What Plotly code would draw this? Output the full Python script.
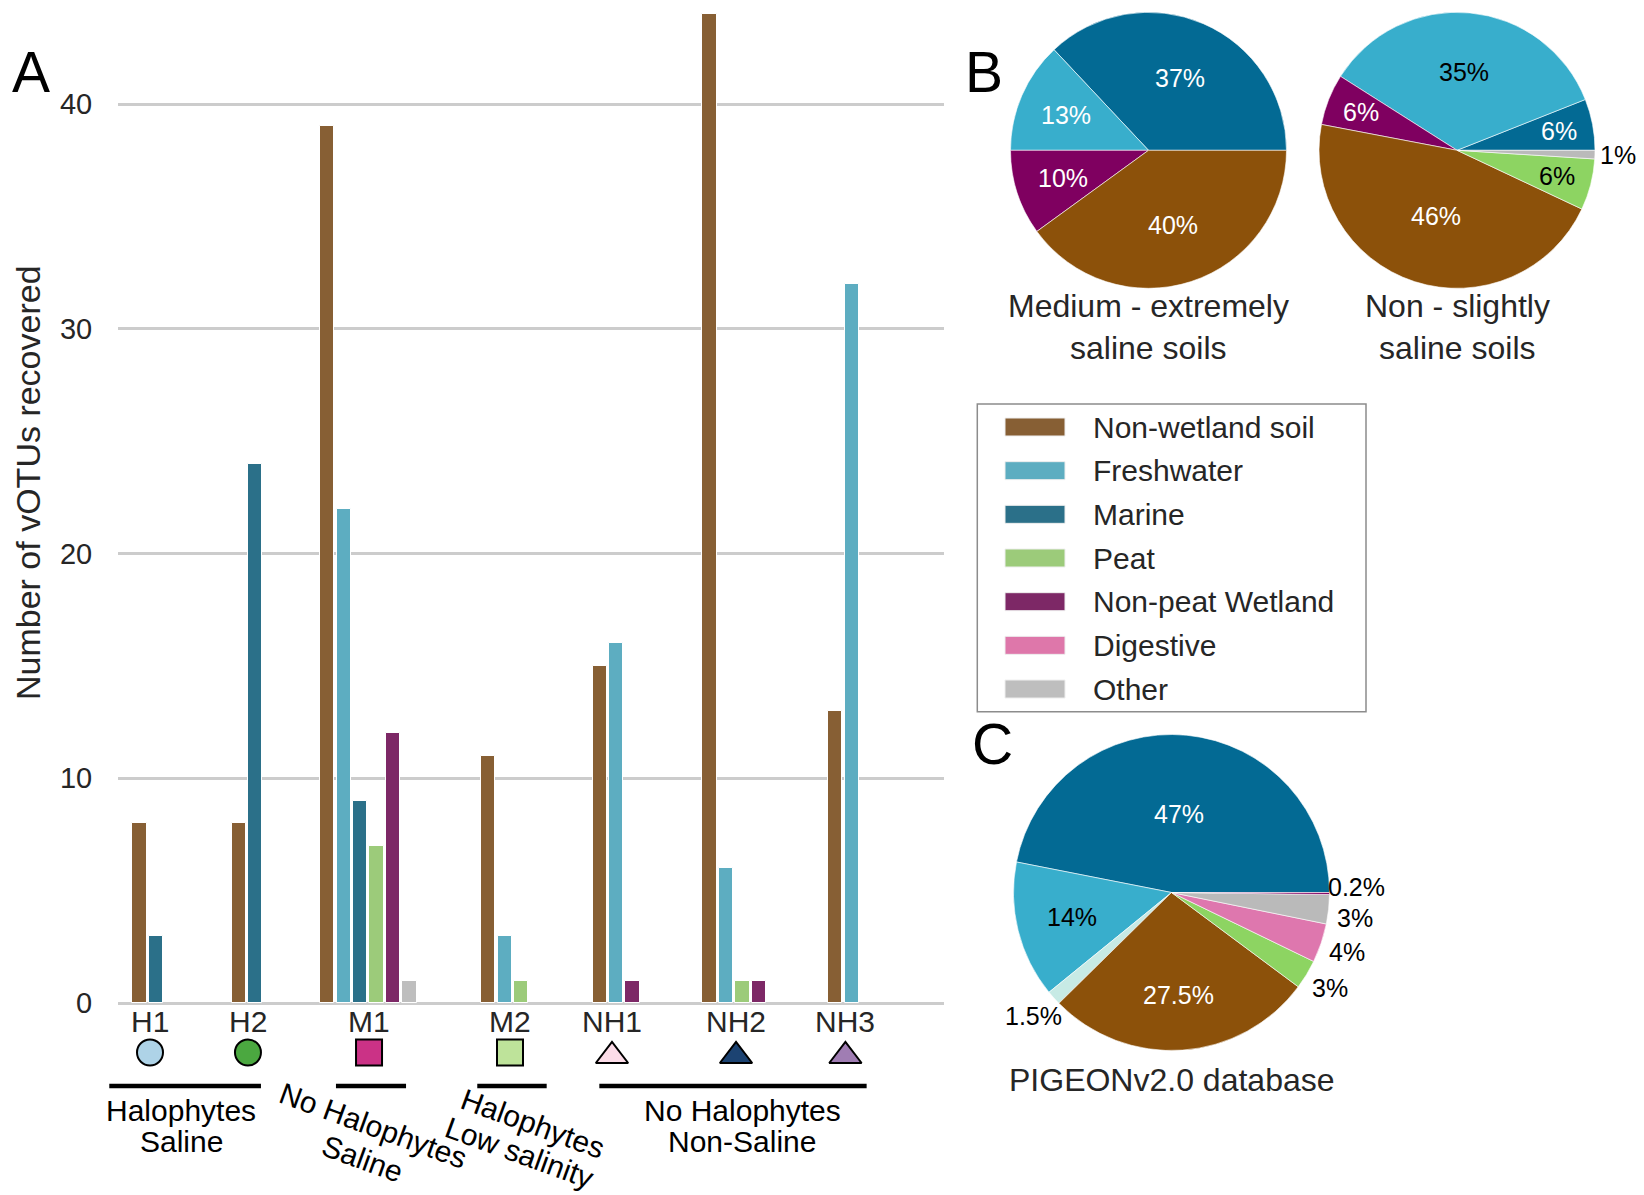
import math
import plotly.graph_objects as go

W, H = 1644, 1195
FONT = "Liberation Sans, Arial, Helvetica, sans-serif"
TEXT = "#262626"

# ---------------- Panel A: vOTUs recovered per sample ----------------
samples = ["H1", "H2", "M1", "M2", "NH1", "NH2", "NH3"]
categories = ["Non-wetland soil", "Freshwater", "Marine", "Peat",
              "Non-peat Wetland", "Digestive", "Other"]
non_wetland_soil = [8, 8, 39, 11, 15, 44, 13]
freshwater = [0, 0, 22, 3, 16, 6, 32]
marine = [3, 24, 9, 0, 0, 0, 0]
peat = [0, 0, 7, 1, 0, 1, 0]
non_peat_wetland = [0, 0, 12, 0, 1, 1, 0]
digestive = [0, 0, 0, 0, 0, 0, 0]
other = [0, 0, 1, 0, 0, 0, 0]
series = [non_wetland_soil, freshwater, marine, peat,
          non_peat_wetland, digestive, other]

sample_symbols = ["circle", "circle", "square", "square",
                  "triangle-up", "triangle-up", "triangle-up"]
sample_colors = ["#AED3E7", "#4BA840", "#CB3286", "#BEE39A",
                 "#FCDCE8", "#1C4372", "#A07DB3"]

groups = [("Halophytes", "Saline"), ("No Halophytes", "Saline"),
          ("Halophytes", "Low salinity"), ("No Halophytes", "Non-Saline")]

# ---------------- Panels B, C: source habitat shares (%) ----------------
saline_cats = ["Marine", "Freshwater", "Non-peat Wetland", "Non-wetland soil"]
saline_pct = [37, 13, 10, 40]
nonsaline_cats = ["Marine", "Freshwater", "Non-peat Wetland",
                  "Non-wetland soil", "Peat", "Other"]
nonsaline_pct = [6, 35, 6, 46, 6, 1]
pigeon_cats = ["Marine", "Freshwater", "Other aquatic", "Non-wetland soil",
               "Peat", "Digestive", "Other", "Non-peat Wetland"]
pigeon_pct = [47, 14, 1.5, 27.5, 3, 4, 3, 0.2]

# ---------------- styling ----------------
BAR_COLORS = {"Non-wetland soil": "#875F34", "Freshwater": "#5DADC1",
              "Marine": "#2B7089", "Peat": "#9CCB7A",
              "Non-peat Wetland": "#7D2866", "Digestive": "#DE77AA",
              "Other": "#BEBEBE"}
PIE_COLORS = {"Non-wetland soil": "#8C510A", "Freshwater": "#38AECC",
              "Marine": "#036A94", "Peat": "#8DD462",
              "Non-peat Wetland": "#7F0060", "Digestive": "#DE77AE",
              "Other": "#BABABA", "Other aquatic": "#C7EAE5"}

# bar-chart geometry (x in bar-slot units)
PLOT_L, PLOT_R = 118, 944          # px
PLOT_TOP, PLOT_BOT = 0, 1006       # px
SLOT = 16.45                       # px per slot
X_MAX = (PLOT_R - PLOT_L) / SLOT
PX_PER_UNIT = 22.475
Y_MIN = -(PLOT_BOT - 1003) / PX_PER_UNIT
Y_MAX = Y_MIN + (PLOT_BOT - PLOT_TOP) / PX_PER_UNIT
group_start = [1.307, 7.34, 12.72, 22.51, 29.28, 35.96, 43.6]
tick_pos = [1.945, 7.90, 15.26, 23.83, 30.03, 37.57, 44.22]
bracket_span = [(-0.53, 8.69), (13.25, 17.51), (21.84, 26.06), (29.26, 45.51)]
TICKLABEL_ROW_PX = 1021
SYMBOL_ROW_PX = 1052.5


def paper(x, y):
    return x / W, 1 - y / H


def slot_px(s):
    return PLOT_L + s * SLOT


fig = go.Figure()

# grouped bars: each sample shows only its non-zero categories, side by side
bx = {c: [] for c in categories}
by = {c: [] for c in categories}
for i in range(len(samples)):
    k = 0
    for c, vals in zip(categories, series):
        if vals[i] > 0:
            bx[c].append(group_start[i] + k)
            by[c].append(vals[i])
            k += 1
for c in categories:
    if bx[c]:
        fig.add_trace(go.Bar(x=bx[c], y=by[c], width=0.87, name=c,
                             marker=dict(color=BAR_COLORS[c],
                                         line=dict(color="white", width=1)),
                             showlegend=False, hoverinfo="skip"))

# sample symbols in a strip below the bars (own y axis, shared x)
strip_h = H - PLOT_BOT
for i, s in enumerate(samples):
    tri = sample_symbols[i] == "triangle-up"
    ypx = SYMBOL_ROW_PX + (3.5 if tri else 0)
    fig.add_trace(go.Scatter(x=[tick_pos[i]], y=[(H - ypx) / strip_h],
                             mode="markers", xaxis="x", yaxis="y2",
                             marker=dict(symbol=sample_symbols[i],
                                         size=28 if tri else 26,
                                         color=sample_colors[i],
                                         line=dict(color="black", width=2)),
                             cliponaxis=False, showlegend=False,
                             hoverinfo="skip"))

shapes = []
annotations = []

# sample names under the bars
for s, t in zip(samples, tick_pos):
    _, py_ = paper(0, TICKLABEL_ROW_PX)
    annotations.append(dict(text=s, x=t, y=py_, xref="x", yref="paper",
                            showarrow=False, xanchor="center",
                            yanchor="middle",
                            font=dict(size=30, color=TEXT, family=FONT)))

# brackets and group captions
for (a, b) in bracket_span:
    x0, y0 = paper(slot_px(a), 1086)
    x1, _ = paper(slot_px(b), 1086)
    shapes.append(dict(type="line", xref="paper", yref="paper",
                       x0=x0, x1=x1, y0=y0, y1=y0,
                       line=dict(color="black", width=4.5)))

caption_layout = [  # (x1, y1, x2, y2, angle) in px
    (181, 1110, 181, 1141, 0),
    (373, 1125, 362, 1158, 20),
    (533, 1123, 519, 1152, 20),
    (742, 1110, 742, 1141, 0),
]
for (l1, l2), (x1, y1, x2, y2, ang) in zip(groups, caption_layout):
    for txt, xx, yy in ((l1, x1, y1), (l2, x2, y2)):
        px_, py_ = paper(xx, yy)
        annotations.append(dict(text=txt, x=px_, y=py_, xref="paper",
                                yref="paper", showarrow=False,
                                xanchor="center", yanchor="middle",
                                textangle=ang,
                                font=dict(size=30, color="black", family=FONT)))

# axis title and panel letters
for txt, xx, yy, size, ang, col in (
        ("Number of vOTUs recovered", 28, 483, 34, -90, TEXT),
        ("A", 31, 72, 57, 0, "black"),
        ("B", 984, 72, 57, 0, "black"),
        ("C", 993, 744, 57, 0, "black")):
    px_, py_ = paper(xx, yy)
    annotations.append(dict(text=txt, x=px_, y=py_, xref="paper", yref="paper",
                            showarrow=False, xanchor="center", yanchor="middle",
                            textangle=ang,
                            font=dict(size=size, color=col, family=FONT)))

# ---------------- pies ----------------
pies = [
    (saline_cats, saline_pct, 1148.5, 150.3, 138,
     ["white", "white", "white", "white"],
     ["Medium - extremely", "saline soils"], [306, 348]),
    (nonsaline_cats, nonsaline_pct, 1457, 150.3, 138,
     ["white", "black", "white", "white", "black", "black"],
     ["Non - slightly", "saline soils"], [306, 348]),
    (pigeon_cats, pigeon_pct, 1171.5, 892.5, 158,
     ["white", "black", "black", "white", "black", "black", "black", "black"],
     ["PIGEONv2.0 database"], [1080]),
]
OUTSIDE_GAP = 31   # minimum vertical spacing of outside labels, px


def label_radius(v):
    if v < 5:
        return 1.17
    if v < 8:
        return 0.75
    if v < 30:
        return 0.65
    if v < 45:
        return 0.57
    return 0.5


for cats, vals, cx, cy, r, tcolors, titles, ty in pies:
    total = sum(vals)
    x0, y1 = paper(cx - r, cy - r)
    x1, y0 = paper(cx + r, cy + r)
    # first slice starts at 3 o'clock and slices run counter-clockwise
    rot = 90 - vals[0] / total * 360
    fig.add_trace(go.Pie(labels=cats, values=vals, sort=False,
                         direction="counterclockwise", rotation=rot,
                         marker=dict(colors=[PIE_COLORS[c] for c in cats],
                                     line=dict(color="white", width=0.6)),
                         textinfo="none", hoverinfo="skip", showlegend=False,
                         domain=dict(x=[x0, x1], y=[y0, y1])))
    labels = []
    cum = 0.0
    for v, col in zip(vals, tcolors):
        mid = math.radians((cum + v / 2) / total * 360)
        cum += v
        f = label_radius(v)
        labels.append([cx + f * r * math.cos(mid), cy - f * r * math.sin(mid),
                       v, col, f > 1])
    # spread crowded outside labels on the right-hand side apart
    outside = sorted([l for l in labels if l[4] and l[0] > cx],
                     key=lambda l: l[1])
    for _ in range(20):
        for a, b in zip(outside, outside[1:]):
            gap = b[1] - a[1]
            if gap < OUTSIDE_GAP:
                a[1] -= (OUTSIDE_GAP - gap) / 2
                b[1] += (OUTSIDE_GAP - gap) / 2
    for lx, ly, v, col, _ in labels:
        px_, py_ = paper(lx, ly)
        annotations.append(dict(text=f"{v:g}%", x=px_, y=py_, xref="paper",
                                yref="paper", showarrow=False,
                                xanchor="center", yanchor="middle",
                                font=dict(size=25, color=col, family=FONT)))
    for t, yy in zip(titles, ty):
        px_, py_ = paper(cx, yy)
        annotations.append(dict(text=t, x=px_, y=py_, xref="paper",
                                yref="paper", showarrow=False,
                                xanchor="center", yanchor="middle",
                                font=dict(size=32, color=TEXT, family=FONT)))

# ---------------- legend ----------------
lx0, ly0 = paper(977.3, 404)
lx1, ly1 = paper(1366, 711.7)
shapes.append(dict(type="rect", xref="paper", yref="paper",
                   x0=lx0, x1=lx1, y0=ly1, y1=ly0,
                   line=dict(color="#8C8C8C", width=1.5), fillcolor="white"))
for k, c in enumerate(categories):
    yc = 427 + k * 43.67
    sx0, sy0 = paper(1005, yc - 9)
    sx1, sy1 = paper(1065, yc + 9)
    shapes.append(dict(type="rect", xref="paper", yref="paper",
                       x0=sx0, x1=sx1, y0=sy1, y1=sy0,
                       fillcolor=BAR_COLORS[c],
                       line=dict(color="#EEEEEE", width=1)))
    tx, tyy = paper(1091, yc)
    annotations.append(dict(text=c, x=tx, y=tyy, xref="paper", yref="paper",
                            showarrow=False, xanchor="left", yanchor="middle",
                            font=dict(size=30, color=TEXT, family=FONT)))

fig.update_layout(
    width=W, height=H, autosize=False,
    margin=dict(l=0, r=0, t=0, b=0, pad=0, autoexpand=False),
    paper_bgcolor="white", plot_bgcolor="white",
    barmode="overlay", bargap=0, showlegend=False,
    font=dict(family=FONT, color=TEXT),
    shapes=shapes, annotations=annotations,
    xaxis=dict(domain=[PLOT_L / W, PLOT_R / W], range=[0, X_MAX],
               anchor="y", showgrid=False, zeroline=False, showline=False,
               automargin=False, showticklabels=False, ticks=""),
    yaxis=dict(domain=[1 - PLOT_BOT / H, 1 - PLOT_TOP / H],
               range=[Y_MIN, Y_MAX], showgrid=True, gridcolor="#CCCCCC",
               gridwidth=2.5, zeroline=False, showline=False,
               automargin=False,
               tickmode="array", tickvals=[0, 10, 20, 30, 40],
               ticks="outside", ticklen=19, tickcolor="rgba(0,0,0,0)",
               tickfont=dict(size=29, color=TEXT, family=FONT)),
    yaxis2=dict(domain=[0, 1 - PLOT_BOT / H], range=[0, 1], anchor="x",
                visible=False, fixedrange=True),
)

fig.write_html("out.html")
